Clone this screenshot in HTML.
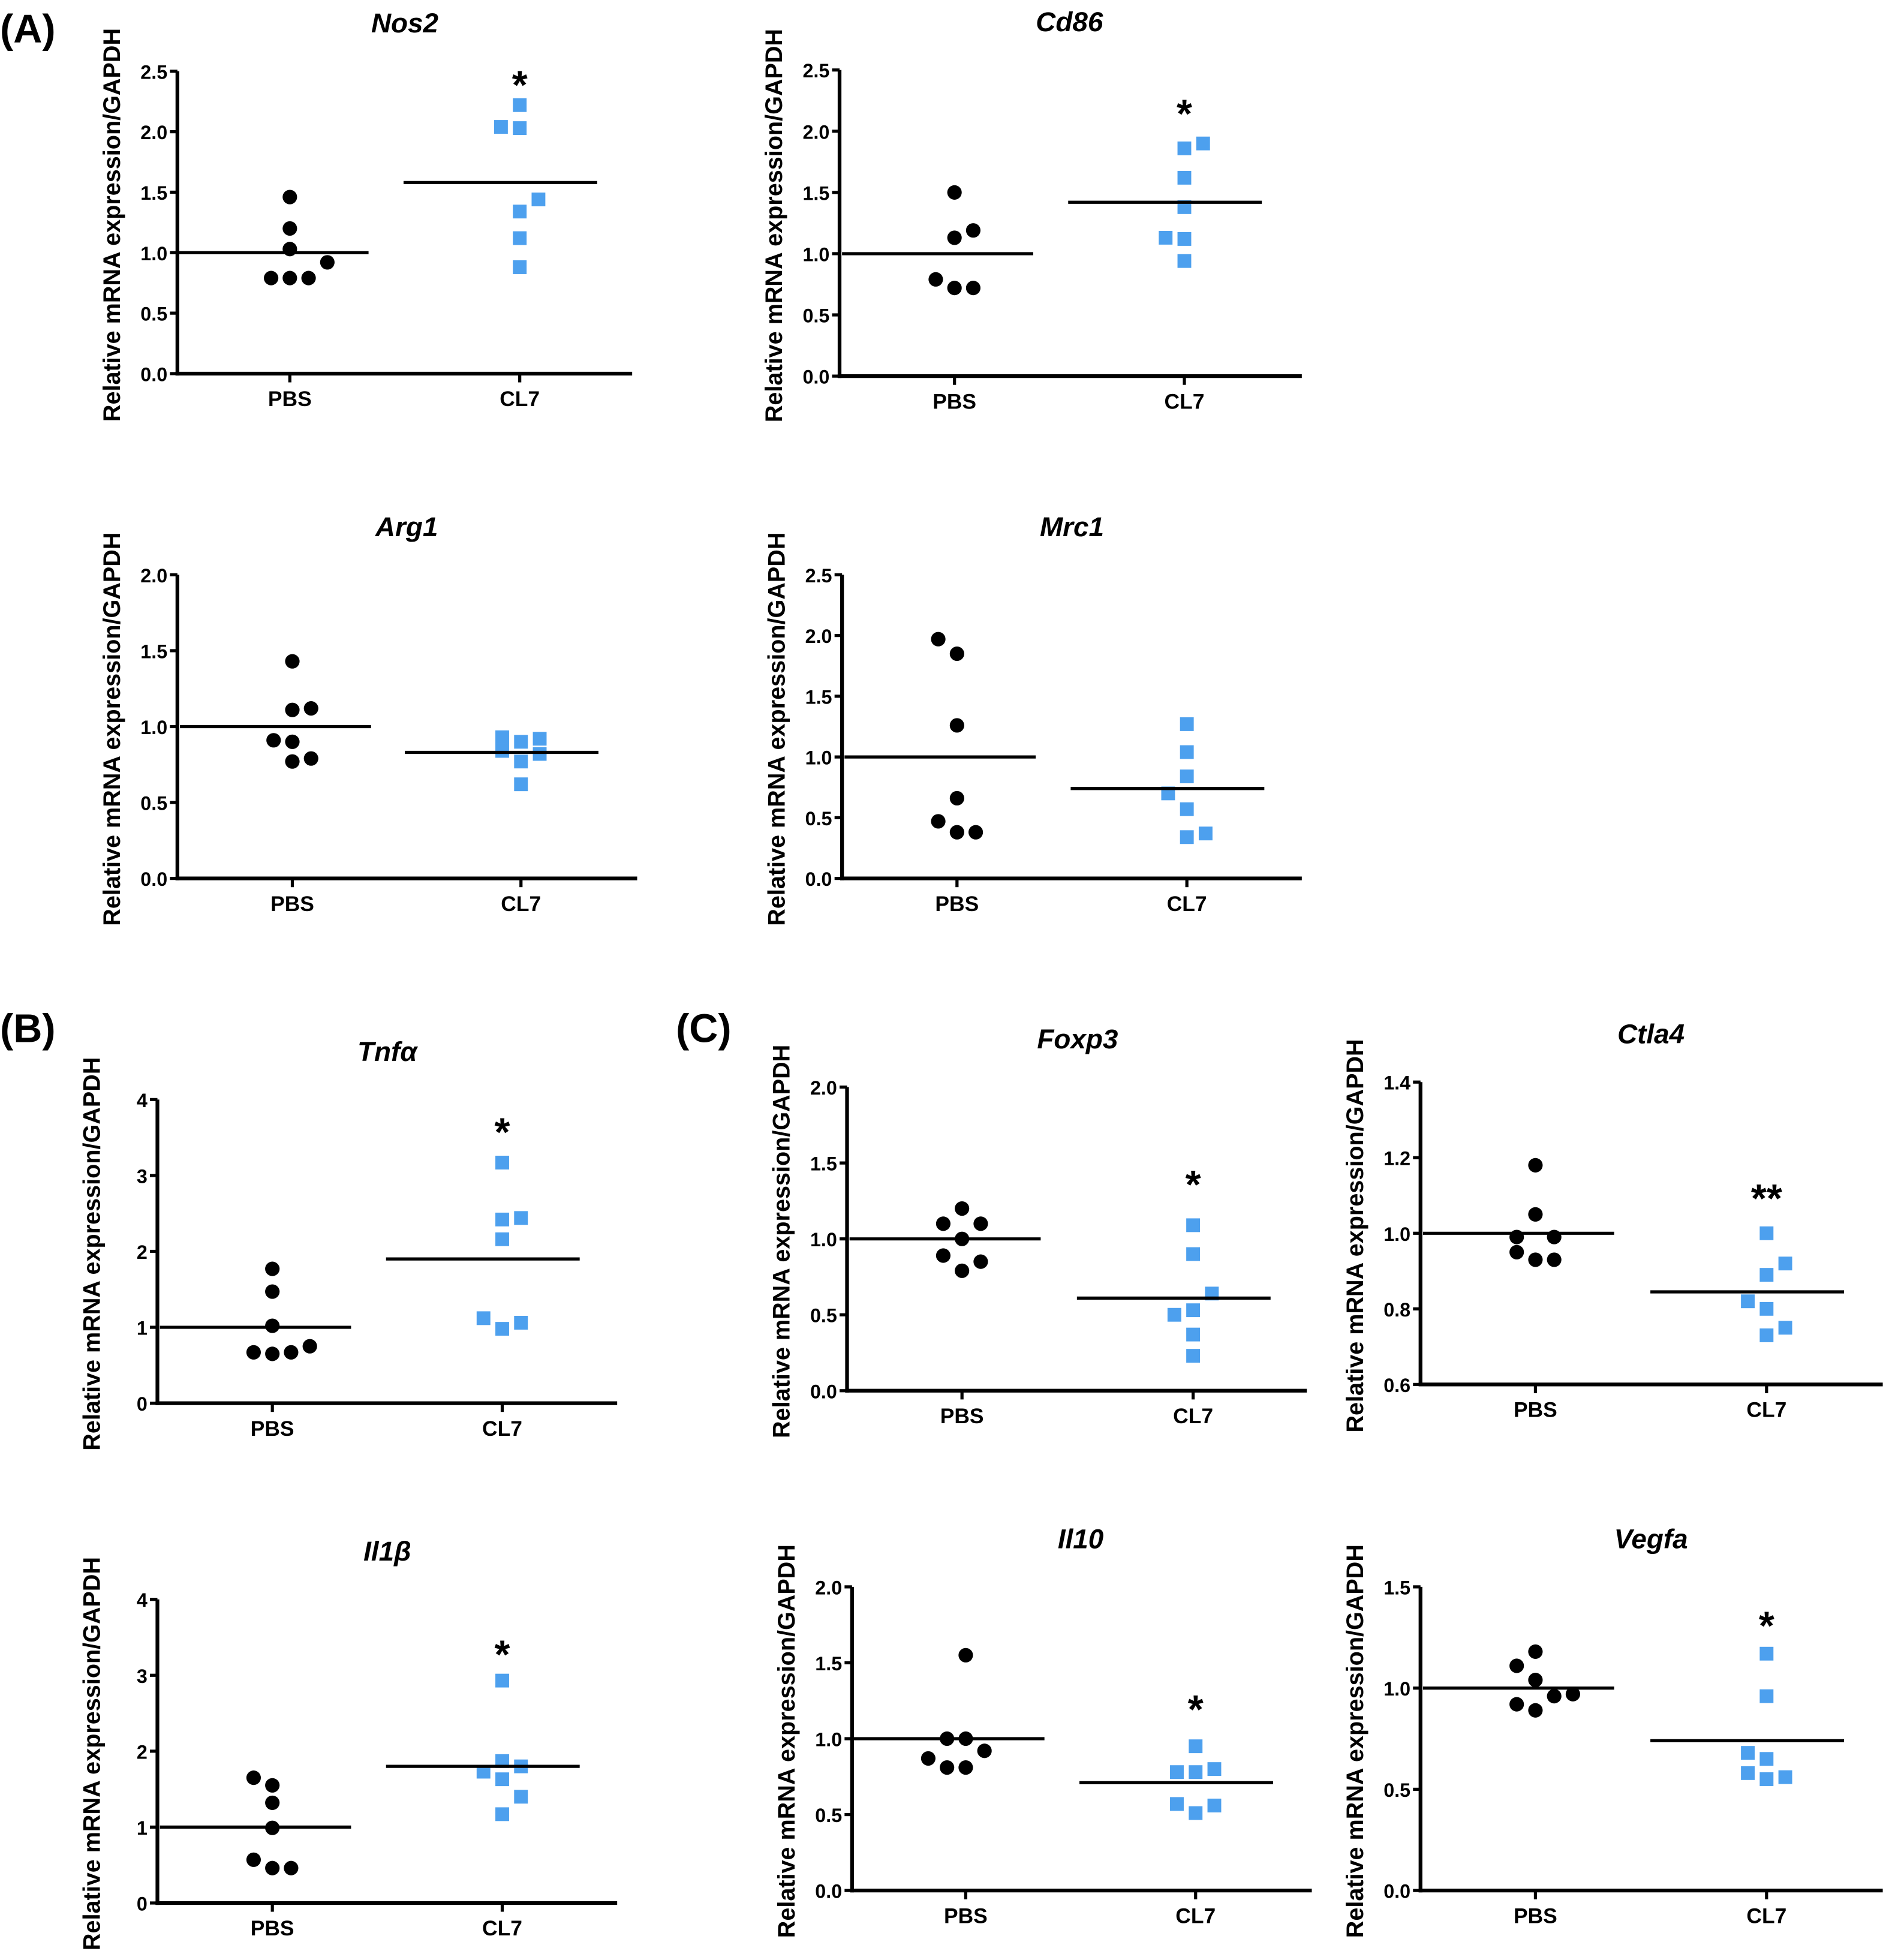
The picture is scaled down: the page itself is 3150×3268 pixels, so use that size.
<!DOCTYPE html>
<html><head><meta charset="utf-8"><style>
html,body{margin:0;padding:0;background:#fff}
svg{display:block}
text{font-family:"Liberation Sans",sans-serif;font-weight:bold;fill:#000}
</style></head><body>
<svg id="fig" width="3150" height="3268" viewBox="0 0 1512 1568.6" xmlns="http://www.w3.org/2000/svg">
<text x="0" y="34" font-size="32">(A)</text>
<text x="0" y="834" font-size="32">(B)</text>
<text x="541" y="834" font-size="32">(C)</text>
</svg>
<script>
// ---- data ----
const categories = ["PBS","CL7"];
const genes = ["Nos2","Cd86","Arg1","Mrc1","Tnfα","Il1β","Foxp3","Ctla4","Il10","Vegfa"];
const pbsNos2=[1.46,1.20,1.03,0.92,0.79,0.79,0.79];
const cl7Nos2=[2.22,2.04,2.03,1.44,1.34,1.12,0.88];
const pbsCd86=[1.50,1.19,1.13,0.79,0.72,0.72];
const cl7Cd86=[1.90,1.86,1.62,1.38,1.13,1.12,0.94];
const pbsArg1=[1.43,1.11,1.12,0.91,0.90,0.77,0.79];
const cl7Arg1=[0.93,0.92,0.90,0.84,0.77,0.82,0.62];
const pbsMrc1=[1.97,1.85,1.26,0.66,0.47,0.38,0.38];
const cl7Mrc1=[1.27,1.04,0.84,0.70,0.57,0.37,0.34];
const pbsTnfa=[1.77,1.47,1.02,0.67,0.65,0.67,0.75];
const cl7Tnfa=[3.17,2.44,2.42,2.16,1.12,1.06,0.98];
const pbsIl1b=[1.65,1.55,1.32,0.99,0.57,0.46,0.46];
const cl7Il1b=[2.93,1.87,1.80,1.73,1.63,1.40,1.17];
const pbsFoxp3=[1.20,1.10,1.10,1.00,0.89,0.85,0.79];
const cl7Foxp3=[1.09,0.90,0.64,0.50,0.53,0.37,0.23];
const pbsCtla4=[1.18,1.05,0.99,0.99,0.95,0.93,0.93];
const cl7Ctla4=[1.00,0.92,0.89,0.82,0.80,0.75,0.73];
const pbsIl10=[1.55,1.00,1.00,0.92,0.87,0.81,0.81];
const cl7Il10=[0.95,0.80,0.78,0.78,0.57,0.56,0.51];
const pbsVegfa=[1.18,1.11,1.04,0.97,0.96,0.92,0.89];
const cl7Vegfa=[1.17,0.96,0.68,0.65,0.58,0.55,0.56];
const meansPbs=[1.0,1.0,1.0,1.0,1.0,1.0,1.0,1.0,1.0,1.0];
const meansCl7=[1.58,1.42,0.83,0.74,1.90,1.80,0.61,0.845,0.71,0.74];
const sigLabels=["*","*","","","*","*","*","**","*","*"];
const tickNos2=[0,0.5,1,1.5,2,2.5];
const tickArg1=[0,0.5,1,1.5,2];
const tickTnfa=[0,1,2,3,4];
const tickCtla4=[0.6,0.8,1.0,1.2,1.4];
const tickVegfa=[0,0.5,1,1.5];

// layout (positions, not data)
const jitPbs={Nos2:[0,0,0,30,-15,0,15],Cd86:[0,15,0,-15,0,15],Arg1:[0,0,15,-15,0,0,15],Mrc1:[-15,0,0,0,-15,0,15],
 Tnfa:[0,0,0,-15,0,15,30],Il1b:[-15,0,0,0,-15,0,15],Foxp3:[0,-15,15,0,-15,15,0],Ctla4:[0,0,-15,15,-15,0,15],
 Il10:[0,-15,0,15,-30,-15,0],Vegfa:[0,-15,0,30,15,-15,0]};
const jitCl7={Nos2:[0,-15,0,15,0,0,0],Cd86:[15,0,0,0,-15,0,0],Arg1:[-15,15,0,-15,0,15,0],Mrc1:[0,0,0,-15,0,15,0],
 Tnfa:[0,15,0,0,-15,15,0],Il1b:[0,0,15,-15,0,15,0],Foxp3:[0,0,15,-15,0,0,0],Ctla4:[0,15,0,-15,0,15,0],
 Il10:[0,15,-15,0,-15,15,0],Vegfa:[0,0,-15,0,-15,0,15]};
const panels=[
 {k:"Nos2",g:0,ax:142,bot:299,top:57,xe:506,c:[232,416],min:0,max:2.5,ticks:tickNos2,pbs:pbsNos2,cl7:cl7Nos2,star:66,dec:1},
 {k:"Cd86",g:1,ax:672,bot:301,top:56,xe:1042,c:[764,948],min:0,max:2.5,ticks:tickNos2,pbs:pbsCd86,cl7:cl7Cd86,star:89,dec:1},
 {k:"Arg1",g:2,ax:142,bot:703,top:460,xe:510,c:[234,417],min:0,max:2,ticks:tickArg1,pbs:pbsArg1,cl7:cl7Arg1,star:0,dec:1},
 {k:"Mrc1",g:3,ax:674,bot:703,top:460,xe:1042,c:[766,950],min:0,max:2.5,ticks:tickNos2,pbs:pbsMrc1,cl7:cl7Mrc1,star:0,dec:1},
 {k:"Tnfa",g:4,ax:126,bot:1123,top:880,xe:494,c:[218,402],min:0,max:4,ticks:tickTnfa,pbs:pbsTnfa,cl7:cl7Tnfa,star:904,dec:0},
 {k:"Il1b",g:5,ax:126,bot:1523,top:1280,xe:494,c:[218,402],min:0,max:4,ticks:tickTnfa,pbs:pbsIl1b,cl7:cl7Il1b,star:1322,dec:0},
 {k:"Foxp3",g:6,ax:678,bot:1113,top:870,xe:1046,c:[770,955],min:0,max:2,ticks:tickArg1,pbs:pbsFoxp3,cl7:cl7Foxp3,star:946,dec:1},
 {k:"Ctla4",g:7,ax:1137,bot:1108,top:866,xe:1507,c:[1229,1414],min:0.6,max:1.4,ticks:tickCtla4,pbs:pbsCtla4,cl7:cl7Ctla4,star:957,dec:1},
 {k:"Il10",g:8,ax:682,bot:1513,top:1270,xe:1050,c:[773,957],min:0,max:2,ticks:tickArg1,pbs:pbsIl10,cl7:cl7Il10,star:1366,dec:1},
 {k:"Vegfa",g:9,ax:1137,bot:1513,top:1270,xe:1507,c:[1229,1414],min:0,max:1.5,ticks:tickVegfa,pbs:pbsVegfa,cl7:cl7Vegfa,star:1299,dec:1}
];
const NS="http://www.w3.org/2000/svg";
const svg=document.getElementById('fig');
function mk(tag,attrs,parent){const e=document.createElementNS(NS,tag);for(const a in attrs)e.setAttribute(a,attrs[a]);(parent||svg).appendChild(e);return e;}
panels.forEach(p=>{
 const grp=mk('g',{});
 
 
 const y=v=>p.bot-(v-p.min)/(p.max-p.min)*(p.bot-p.top);
 const t=mk('text',{x:(p.c[0]+p.c[1])/2,y:p.top-31,'font-size':22,'font-style':'italic','text-anchor':'middle'},grp);
 t.textContent=genes[p.g];
 
 
 const yl=mk('text',{x:0,y:0,'font-size':19,'text-anchor':'middle',transform:`translate(${p.ax-46},${(p.top+p.bot)/2+2}) rotate(-90)`},grp);
 yl.textContent="Relative mRNA expression/GAPDH";
 
 
 const yaxis=mk('line',{x1:p.ax,y1:p.top,x2:p.ax,y2:p.bot+1.5,stroke:'#000','stroke-width':3},grp);
 
 
 const xaxis=mk('line',{x1:p.ax-1.5,y1:p.bot,x2:p.xe,y2:p.bot,stroke:'#000','stroke-width':3},grp);
 
 
 p.ticks.forEach(v=>{
  mk('line',{x1:p.ax-6,y1:y(v),x2:p.ax,y2:y(v),stroke:'#000','stroke-width':2.5},grp);
  const tl=mk('text',{x:p.ax-8,y:y(v)+6,'font-size':15.5,'text-anchor':'end'},grp);
  tl.textContent=v.toFixed(p.dec);
  
  
 });
 categories.forEach((c,i)=>{
  mk('line',{x1:p.c[i],y1:p.bot,x2:p.c[i],y2:p.bot+7,stroke:'#000','stroke-width':2.5},grp);
  const xl=mk('text',{x:p.c[i],y:p.bot+26,'font-size':17,'text-anchor':'middle'},grp);
  xl.textContent=c;
  
  
 });
 p.pbs.forEach((v,i)=>{
  const d=mk('circle',{cx:p.c[0]+(jitPbs[p.k][i]||0),cy:y(v),r:5.8,fill:'#000'},grp);
  
  
 });
 p.cl7.forEach((v,i)=>{
  const d=mk('rect',{x:p.c[1]+(jitCl7[p.k][i]||0)-5.5,y:y(v)-5.5,width:11,height:11,fill:'#4da0ee'},grp);
  
  
 });
 const m1=mk('line',{x1:p.c[0]-90,x2:p.c[0]+63,y1:y(meansPbs[p.g]),y2:y(meansPbs[p.g]),stroke:'#000','stroke-width':2.5},grp);
 
 
 const m2=mk('line',{x1:p.c[1]-93,x2:p.c[1]+62,y1:y(meansCl7[p.g]),y2:y(meansCl7[p.g]),stroke:'#000','stroke-width':2.5},grp);
 
 
 if(sigLabels[p.g]){
  const s=mk('text',{x:p.c[1],y:p.star+13,'font-size':32,'text-anchor':'middle'},grp);
  s.textContent=sigLabels[p.g];
  
  
 }
});
</script>
</body></html>
